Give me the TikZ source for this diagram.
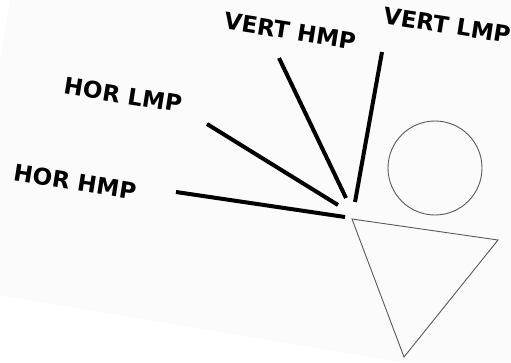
\documentclass[tikz,border=0pt]{standalone}
\usepackage{fontspec}
\setmainfont{DejaVu Sans}
\usetikzlibrary{positioning}

\begin{document}
\begin{tikzpicture}[
  x=1pt, y=-1pt,
  tag/.style={font=\fontsize{23}{27}\selectfont\bfseries, rotate=-9, inner sep=0pt},
  spoke/.style={line width=4pt},
  outline/.style={line width=0.9pt, draw=black!65},
  paper/.style={fill=black!1.5, draw=none}
]
  \useasboundingbox (0,0) rectangle (511,362);
  \fill[white] (0,0) rectangle (511,362);
  \fill[paper] (10,0) -- (511,0) -- (511,362) -- (400,362) -- (0,295) -- (0,63) -- cycle;

  % labels
  \node[tag] (hhmp) at (75,182) {HOR HMP};
  \node[tag] (hlmp) at (123,95) {HOR LMP};
  \node[tag] (vhmp) at (290,31) {VERT HMP};
  \node[tag] (vlmp) at (447,25) {VERT LMP};

  % spoke ends
  \coordinate (hhmpA) at (176,192);
  \coordinate (hhmpB) at (345,217);
  \coordinate (hlmpA) at (207,124);
  \coordinate (hlmpB) at (338,205);
  \coordinate (vhmpA) at (279,58);
  \coordinate (vhmpB) at (346,198);
  \coordinate (vlmpA) at (382,52);
  \coordinate (vlmpB) at (355,202);

  \draw[spoke] (hhmpA) -- (hhmpB);
  \draw[spoke] (hlmpA) -- (hlmpB);
  \draw[spoke] (vhmpA) -- (vhmpB);
  \draw[spoke] (vlmpA) -- (vlmpB);

  % head and body
  \node[outline, circle, minimum size=94pt, inner sep=0pt] (head) at (435,168) {};
  \coordinate (tri1) at (352,219);
  \coordinate (tri2) at (498,240);
  \coordinate (tri3) at (404,357);
  \draw[outline] (tri1) -- (tri2) -- (tri3) -- cycle;
\end{tikzpicture}
\end{document}
